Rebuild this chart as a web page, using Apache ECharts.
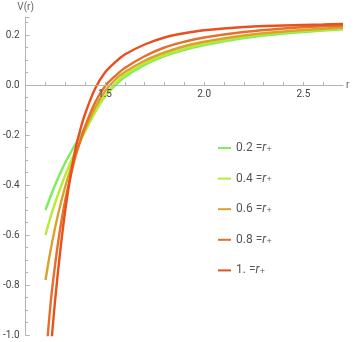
<!DOCTYPE html>
<html>
<head>
<meta charset="utf-8">
<script src="https://cdn.jsdelivr.net/npm/echarts@6/dist/echarts.min.js"></script>
<style>
  html, body { margin: 0; padding: 0; background: #fff; }
  #main { width: 354px; height: 342px; }
</style>
</head>
<body>
<div id="main"></div>
<script>
// r sample positions
const rValues = [1.2, 1.225, 1.25, 1.275, 1.3, 1.325, 1.35, 1.375, 1.4, 1.45, 1.5,
  1.55, 1.6, 1.7, 1.8, 1.9, 2.0, 2.2, 2.4, 2.6, 2.7];

// V(r) for each r+ value
const v02 = [-0.50, -0.447, -0.397, -0.352, -0.31, -0.273, -0.238, -0.203, -0.17, -0.10, -0.045,
  -0.003, 0.032, 0.08, 0.115, 0.14, 0.16, 0.188, 0.206, 0.218, 0.223];
const v04 = [-0.60, -0.53, -0.468, -0.412, -0.36, -0.312, -0.267, -0.225, -0.185, -0.11, -0.045,
  0.005, 0.04, 0.087, 0.12, 0.145, 0.165, 0.193, 0.21, 0.221, 0.226];
const v06 = [-0.78, -0.665, -0.565, -0.48, -0.405, -0.34, -0.28, -0.225, -0.175, -0.09, -0.025,
  0.02, 0.052, 0.097, 0.13, 0.155, 0.173, 0.198, 0.214, 0.225, 0.23];
const v08 = [-1.12, -0.88, -0.71, -0.57, -0.46, -0.37, -0.29, -0.225, -0.165, -0.07, -0.005,
  0.035, 0.068, 0.115, 0.15, 0.173, 0.19, 0.212, 0.226, 0.235, 0.238];
const v10 = [-1.38, -1.08, -0.85, -0.66, -0.50, -0.37, -0.26, -0.18, -0.115, -0.015, 0.05,
  0.09, 0.122, 0.162, 0.19, 0.207, 0.219, 0.232, 0.238, 0.242, 0.244];

const seriesNames = ['0.2', '0.4', '0.6', '0.8', '1.'];
const seriesColors = ['#7eec5c', '#b8ec34', '#d9a22e', '#e4702a', '#e8501e'];
const seriesValues = [v02, v04, v06, v08, v10];

const myChart = echarts.init(document.getElementById('main'));

const axisGray = '#b4b4b4';
const labelColor = '#444';

const option = {
  backgroundColor: '#fff',
  animation: false,
  textStyle: { fontFamily: 'Roboto' },
  grid: { left: 25, right: 11, top: 17, bottom: 7 },
  legend: {
    orient: 'vertical',
    left: 218,
    top: 141,
    padding: 0,
    itemWidth: 13,
    itemHeight: 2,
    itemGap: 16.6,
    icon: 'rect',
    data: seriesNames,
    formatter: name => '{n|' + name + ' =}{r|r}{s|₊}',
    textStyle: {
      color: '#555',
      fontSize: 12,
      lineHeight: 14,
      rich: {
        n: { fontSize: 12, lineHeight: 14, color: '#555', fontFamily: 'Roboto' },
        r: { fontSize: 12, lineHeight: 14, color: '#555', fontStyle: 'italic', fontFamily: 'Roboto' },
        s: { fontSize: 11, lineHeight: 14, color: '#555', fontFamily: 'DejaVu Sans' }
      }
    }
  },
  xAxis: {
    type: 'value',
    min: 1.1,
    max: 2.7,
    interval: 0.1,
    z: 5,
    // axis drawn on the V = 0 line
    offset: -250,
    name: 'r',
    nameLocation: 'end',
    nameGap: 3,
    nameTextStyle: { color: '#666', fontSize: 10, fontFamily: 'Roboto' },
    axisLine: { onZero: false, lineStyle: { color: axisGray, width: 1 } },
    axisTick: { inside: true, length: 3, lineStyle: { color: axisGray } },
    splitLine: { show: false },
    axisLabel: {
      color: labelColor,
      fontSize: 10,
      margin: 4,
      showMinLabel: false,
      showMaxLabel: false,
      formatter: v => {
        const k = Math.round(v * 2);
        return Math.abs(v * 2 - k) < 1e-6 ? v.toFixed(1) : '';
      }
    }
  },
  yAxis: {
    type: 'value',
    min: -1.0,
    max: 0.272,
    interval: 0.2,
    name: 'V(r)',
    nameLocation: 'end',
    nameGap: 5,
    nameTextStyle: { color: '#666', fontSize: 10, fontFamily: 'Roboto', align: 'center' },
    axisLine: { show: true, onZero: false, lineStyle: { color: axisGray, width: 1 } },
    axisTick: { show: true, inside: true, length: 4, lineStyle: { color: axisGray } },
    minorTick: { show: true, splitNumber: 4, length: 2.5, lineStyle: { color: axisGray } },
    splitLine: { show: false },
    axisLabel: {
      color: labelColor,
      fontSize: 10,
      margin: 6,
      showMaxLabel: false,
      formatter: v => {
        const k = Math.round(v / 0.2);
        if (Math.abs(v - k * 0.2) > 1e-6) return '';
        return (k * 0.2).toFixed(1);
      }
    }
  },
  series: seriesNames.map((name, i) => ({
    name: name,
    type: 'line',
    data: rValues.map((r, j) => [r, seriesValues[i][j]]),
    smooth: 0.35,
    showSymbol: false,
    symbol: 'none',
    clip: true,
    color: seriesColors[i],
    lineStyle: { color: seriesColors[i], width: 2.4 }
  }))
};

myChart.setOption(option);
</script>
</body>
</html>
